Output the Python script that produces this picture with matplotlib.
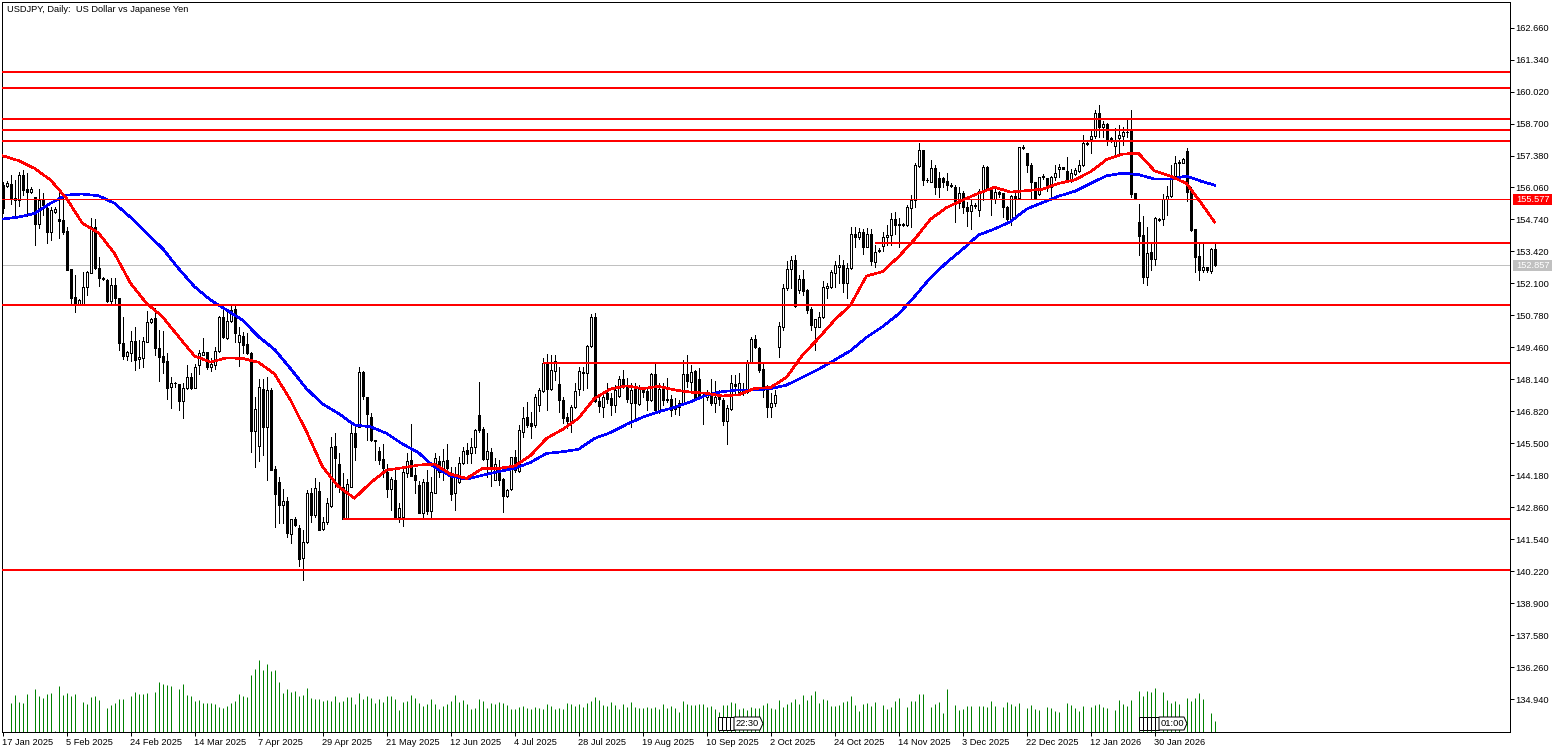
#!/usr/bin/env python3
"""USDJPY daily chart, MetaTrader style: candles, two moving averages, levels and tick volume."""
import matplotlib
matplotlib.use("Agg")
import matplotlib.pyplot as plt
from matplotlib.patches import Polygon

W, H = 1563, 752

RED = "#ff0000"
BLUE = "#0000ff"
GREEN = "#008000"
SILVER = "#c0c0c0"

# --- candles ----------------------------------------------------------------
opens = [
    156.16,156.13,156.20,155.61,155.54,156.57,155.98,155.87,155.65,154.55,
    155.57,155.20,154.24,155.05,154.75,154.72,154.26,152.68,151.53,151.25,
    151.25,151.94,152.55,154.41,152.72,152.33,152.24,151.38,152.04,151.49,
    149.63,149.12,149.22,149.73,148.97,149.04,149.70,150.51,150.66,149.42,
    149.11,148.90,147.81,148.01,147.94,147.27,147.77,148.23,147.80,148.74,
    149.16,149.27,148.67,148.74,149.31,150.70,149.84,150.56,151.03,149.70,
    149.93,149.60,149.25,146.03,145.39,147.75,146.19,147.71,144.43,143.91,
    142.97,143.11,141.77,142.37,142.00,140.79,141.45,143.44,142.55,143.52,
    141.96,142.25,142.92,145.40,144.65,143.69,142.37,143.72,145.92,146.19,
    148.45,147.40,146.61,145.65,145.20,144.85,144.34,143.63,143.99,142.45,
    142.45,144.27,144.82,144.20,143.79,142.65,143.91,142.73,143.47,144.79,
    144.47,144.82,144.16,143.44,143.92,144.68,145.23,145.09,145.34,146.66,
    146.08,144.87,145.15,143.99,144.34,144.03,143.33,143.61,144.95,144.38,
    145.99,146.61,146.33,146.26,147.09,147.68,148.80,147.75,148.50,147.95,
    147.29,146.58,146.44,146.99,147.73,148.46,148.39,149.52,150.70,147.24,
    147.02,147.57,147.36,147.07,147.46,148.15,147.84,147.16,147.79,147.13,
    147.73,147.65,147.29,148.37,146.88,147.77,147.33,147.32,146.94,146.99,
    147.13,148.37,148.05,148.49,148.15,147.47,147.43,147.46,147.16,147.51,
    147.29,146.44,146.93,147.95,147.64,147.71,147.64,148.87,149.79,149.42,
    148.56,147.84,147.02,147.18,149.47,150.32,151.90,152.68,153.07,151.83,
    152.27,151.83,151.03,150.32,150.32,150.70,151.90,151.94,152.55,152.77,
    152.86,152.10,152.72,154.13,154.00,154.22,153.62,154.13,153.00,153.47,
    153.66,154.03,154.11,154.76,154.55,154.55,154.51,155.23,155.54,156.95,
    157.60,156.39,156.30,156.85,156.44,156.44,156.34,156.17,156.07,155.43,
    155.85,155.24,155.10,155.32,155.13,155.93,156.92,155.96,155.57,155.89,
    155.82,155.24,154.75,155.71,155.61,157.72,157.47,156.97,156.30,155.79,
    156.52,156.44,156.10,156.48,156.81,156.89,156.74,156.32,156.62,156.75,
    156.97,157.90,158.08,158.19,159.12,158.57,158.68,158.12,157.79,158.09,
    158.19,158.37,158.41,155.82,154.64,154.10,152.38,153.40,153.10,154.76,
    154.75,155.57,155.71,156.54,157.06,157.09,157.57,155.93,154.34,153.24,
    152.66,152.77,152.63,153.51,
]
highs = [
    156.30,156.34,156.57,156.37,156.71,156.78,156.64,156.07,155.68,155.98,
    155.82,155.38,155.24,155.24,155.91,155.68,154.44,152.70,152.45,151.45,
    152.59,152.63,154.79,154.75,153.20,152.38,152.27,152.31,152.31,151.49,
    150.73,149.33,150.15,150.29,149.77,149.91,150.98,150.66,151.07,150.18,
    150.15,149.22,148.23,148.02,147.95,147.98,148.74,148.39,148.78,149.36,
    149.84,149.29,149.01,149.46,150.76,151.14,150.98,151.21,151.21,150.32,
    150.11,150.04,149.29,147.43,148.15,148.15,148.26,147.77,144.57,144.10,
    143.61,143.28,142.40,142.45,142.14,141.93,143.58,143.65,144.06,143.92,
    142.48,143.24,145.75,145.92,145.09,144.27,144.02,146.26,146.22,148.64,
    148.50,147.43,146.77,145.65,145.37,145.48,144.65,144.13,144.54,143.03,
    144.54,145.09,146.30,144.47,143.97,144.02,144.40,144.13,145.09,144.98,
    145.26,145.48,144.54,144.54,144.95,145.37,145.50,145.71,146.08,148.02,
    146.19,145.95,145.30,144.89,144.82,144.06,143.61,144.95,145.23,146.26,
    147.02,147.22,146.81,147.54,147.77,149.01,149.18,149.15,149.15,148.67,
    147.43,146.74,147.09,147.98,148.64,148.64,149.56,150.84,150.90,147.50,
    147.50,147.98,147.57,147.91,148.28,148.53,148.19,147.98,148.01,147.91,
    147.84,147.73,148.42,148.78,147.98,148.01,148.19,147.50,147.36,147.29,
    148.94,149.15,148.74,148.53,148.60,147.57,147.71,148.15,148.09,147.71,
    147.36,147.09,148.32,148.32,148.39,147.98,148.94,149.91,149.97,149.47,
    148.80,147.91,147.57,147.71,150.52,152.08,153.04,153.23,153.27,152.45,
    152.66,151.86,151.14,150.65,150.94,152.22,152.11,152.66,153.04,153.27,
    153.07,152.93,154.44,154.41,154.37,154.33,154.37,154.33,153.69,153.55,
    154.24,154.51,155.00,155.06,154.79,154.58,155.34,155.75,157.06,157.88,
    157.60,156.44,157.19,156.99,156.71,156.51,156.67,156.23,156.16,156.09,
    155.93,155.47,155.54,155.41,155.98,156.99,156.95,156.09,156.09,155.93,
    155.85,155.29,155.75,155.96,157.74,157.81,157.47,157.06,156.30,156.51,
    156.62,156.44,156.53,156.99,157.03,156.89,157.30,156.81,156.85,157.20,
    158.23,157.95,158.40,159.26,159.46,158.82,158.74,158.13,158.50,158.64,
    158.57,158.85,159.26,155.85,155.38,154.89,154.45,153.83,154.83,154.79,
    155.79,156.12,156.99,157.36,157.20,157.26,157.70,156.07,154.34,153.73,
    153.73,152.80,153.55,153.73,
]
lows = [
    155.00,156.09,155.38,154.83,155.30,155.75,154.88,155.82,153.69,154.37,
    154.92,153.78,153.89,155.00,153.96,154.14,152.64,151.25,150.94,151.20,
    151.20,151.62,152.52,152.68,152.00,152.24,151.34,151.25,151.25,149.36,
    148.97,148.94,148.91,148.53,148.60,148.67,149.67,150.48,149.15,148.09,
    148.39,147.32,146.95,147.81,146.88,146.54,147.73,147.73,147.77,148.36,
    149.15,148.56,148.50,148.56,149.29,149.84,149.80,150.52,149.70,148.69,
    149.22,149.19,145.16,144.54,144.79,145.02,144.00,144.40,142.07,142.23,
    142.20,141.66,141.38,142.09,140.44,139.87,141.41,142.27,142.48,141.93,
    141.93,142.18,142.89,143.72,143.51,142.37,142.37,143.72,144.82,146.19,
    147.32,145.64,145.61,144.82,144.65,144.13,143.30,142.76,142.48,142.27,
    142.09,144.13,144.17,143.44,142.62,142.45,142.59,142.48,143.44,144.13,
    143.99,144.27,143.17,142.76,143.88,144.65,144.68,144.68,145.09,145.99,
    144.82,144.13,143.74,143.99,143.79,142.69,143.30,143.58,144.34,144.34,
    145.78,146.19,145.71,146.19,146.85,147.64,146.88,147.71,148.12,146.81,
    146.33,146.12,145.99,146.95,147.50,147.71,147.77,149.47,147.22,146.81,
    146.60,147.15,146.67,146.81,147.43,147.77,147.22,146.19,146.47,147.09,
    147.43,146.88,147.27,146.81,146.77,147.09,147.22,146.63,146.71,146.67,
    147.09,147.84,147.71,147.29,147.43,146.30,147.29,147.09,146.81,147.09,
    146.26,145.48,146.88,147.57,147.57,147.50,147.57,148.80,149.42,148.46,
    147.43,146.58,146.60,147.05,149.05,150.18,151.83,151.90,151.14,151.69,
    151.62,150.90,150.18,149.36,150.29,150.66,151.49,151.90,151.97,152.10,
    151.76,151.51,152.68,153.62,153.92,153.31,153.59,152.86,152.79,153.41,
    153.45,153.69,153.69,154.14,153.62,154.47,154.47,154.44,155.24,156.92,
    156.16,156.30,156.30,155.79,155.68,156.09,155.96,156.07,154.65,155.20,
    155.02,154.47,154.33,155.20,154.88,155.54,155.96,154.92,155.43,155.68,
    154.83,154.61,154.51,154.88,155.57,157.63,156.71,155.61,155.57,155.75,
    156.42,155.93,155.71,156.37,156.48,156.81,156.30,156.29,156.59,156.71,
    156.95,157.81,157.50,158.09,158.13,158.16,157.81,157.95,157.40,157.47,
    157.81,158.16,155.68,155.59,153.28,152.10,152.04,152.66,152.86,154.69,
    154.51,154.93,155.65,156.51,156.44,157.06,155.52,154.28,152.59,152.25,
    152.59,152.59,152.55,152.84,
]
closes = [
    155.20,156.26,155.57,155.54,156.57,155.96,155.87,156.00,154.55,155.54,
    155.34,154.24,155.13,155.16,154.69,154.24,152.66,151.51,151.25,151.42,
    151.94,152.59,154.44,152.72,152.31,152.30,151.38,152.04,151.49,149.66,
    149.12,149.26,149.73,148.94,149.05,149.73,150.50,150.62,149.42,149.08,
    148.87,147.80,147.98,147.98,147.27,147.77,148.23,147.77,148.64,149.22,
    149.27,148.64,148.76,149.31,150.70,149.91,150.56,151.00,150.04,149.97,
    149.56,149.22,146.03,146.91,147.81,146.19,147.71,144.40,143.42,142.96,
    143.11,141.82,142.37,142.12,140.75,141.45,143.44,142.55,143.65,141.93,
    142.25,143.03,145.34,144.89,143.72,142.37,143.81,145.92,145.34,148.43,
    147.46,146.71,145.64,145.62,144.82,144.50,143.63,144.02,142.48,142.82,
    144.34,144.79,144.17,143.99,142.65,143.90,142.73,143.50,144.89,144.34,
    144.79,144.47,143.42,144.16,144.68,145.20,145.07,145.34,146.06,146.06,
    144.87,145.17,144.54,144.65,143.99,143.33,143.58,144.93,144.40,146.06,
    146.54,146.26,146.22,147.43,147.71,148.83,147.73,148.53,148.92,147.29,
    146.55,146.44,147.02,147.65,148.48,148.39,149.52,150.70,147.27,147.05,
    147.43,147.35,147.09,147.71,148.15,147.95,147.35,147.71,147.18,147.84,
    147.62,147.29,148.37,146.88,147.76,147.29,147.30,146.88,147.02,147.15,
    148.37,148.09,148.46,147.36,147.46,147.44,147.54,147.18,147.43,147.35,
    146.44,146.96,147.98,147.88,147.98,147.57,148.87,149.79,149.49,148.53,
    147.71,147.02,147.18,147.49,150.35,151.90,152.68,153.07,151.17,152.28,
    151.80,151.00,150.39,150.62,150.73,151.94,151.99,152.56,152.86,152.86,
    152.10,152.72,154.13,154.00,154.22,153.62,154.13,153.04,153.41,153.44,
    154.03,154.11,154.75,154.51,154.52,154.52,155.24,155.54,156.99,157.60,
    156.37,156.36,156.85,156.09,156.09,156.30,156.15,156.14,155.43,155.82,
    155.24,155.10,155.34,155.29,155.93,156.92,155.98,155.57,155.89,155.79,
    155.24,154.75,155.71,155.61,157.72,157.69,156.97,156.30,155.61,156.48,
    156.49,156.12,156.48,156.65,156.89,156.81,156.32,156.65,156.78,156.99,
    157.88,157.87,158.19,159.12,158.57,158.68,158.05,158.02,158.02,158.23,
    158.36,158.34,155.80,155.61,154.06,152.38,153.37,153.10,154.79,154.73,
    155.57,155.72,156.58,157.06,157.11,157.22,155.89,154.31,153.21,152.66,
    152.77,152.66,153.51,152.857,
]
# tick volume, thousands
volumes = [
    0,0,
    29,37,30,29,38,0,43,36,34,38,
    39,1,46,37,39,36,38,0,30,28,
    35,36,32,0,24,27,29,33,33,0,
    36,40,38,38,39,0,40,50,48,47,
    46,0,43,48,37,36,31,32,29,29,
    29,28,25,24,26,29,31,38,36,35,
    57,63,72,62,68,61,62,50,39,43,
    40,41,36,37,44,34,33,33,31,32,
    31,36,30,31,35,35,28,39,33,36,
    34,29,33,30,36,
    36,33,22,30,31,37,34,29,26,28,33,28,23,26,28,31,37,30,32,28,
    23,24,33,31,24,29,28,30,29,27,23,23,25,26,24,23,25,24,23,28,
    26,23,24,23,29,28,26,28,25,29,31,35,32,27,26,30,27,23,28,25,
    30,25,24,24,25,24,25,23,28,24,26,24,20,31,28,27,27,28,28,
    25,26,23,20,27,27,30,29,23,24,22,25,24,24,27,29,24,23,32,25,
    28,30,33,28,37,32,37,41,29,33,32,26,26,27,30,31,36,27,21,28,
    29,26,30,0,27,23,25,31,34,0,25,31,31,38,38,0,25,28,30,19,
    43,0,27,22,23,26,26,0,26,26,25,31,26,0,25,30,28,26,29,0,
    24,27,23,22,0,25,24,21,20,0,29,27,24,21,26,0,25,27,28,25,
    24,0,22,32,28,26,32,0,41,36,41,40,44,0,40,32,29,31,28,0,
    34,31,34,39,33,0,19,11,
]

# moving averages, read at every fourth bar and at the last one
ma_bars = list(range(0, 304, 4)) + [303]
ma_red = [
    157.37,157.17,156.85,156.37,155.61,154.58,154.19,153.34,152.11,151.28,
    150.73,149.91,149.11,148.86,149.03,149.01,148.85,148.37,147.29,145.99,
    144.54,143.72,143.24,143.88,144.40,144.50,144.61,144.65,144.24,144.06,
    144.47,144.47,144.57,145.00,145.71,146.08,146.54,147.36,147.75,147.88,
    147.76,147.86,147.71,147.62,147.57,147.46,147.51,147.77,147.81,148.23,
    149.15,149.84,150.59,151.21,152.41,152.59,153.20,153.92,154.75,155.23,
    155.54,155.82,156.07,155.87,155.93,155.99,156.23,156.37,156.71,157.21,
    157.44,157.47,156.75,156.53,156.23,155.34,154.64,
]
ma_blue = [
    154.76,154.84,154.99,155.41,155.75,155.79,155.72,155.41,154.83,154.17,
    153.55,152.72,151.97,151.42,151.01,150.59,149.91,149.38,148.59,147.76,
    147.13,146.74,146.26,146.19,145.92,145.48,145.12,144.52,144.16,144.03,
    144.19,144.34,144.47,144.72,145.09,145.16,145.26,145.71,145.95,146.29,
    146.58,146.81,146.99,147.22,147.50,147.64,147.71,147.71,147.76,147.91,
    148.23,148.56,148.94,149.33,149.88,150.32,150.84,151.56,152.34,152.96,
    153.51,154.10,154.35,154.65,155.17,155.44,155.70,155.90,156.23,156.54,
    156.65,156.59,156.41,156.41,156.53,156.30,156.16,
]

# horizontal levels: price and the bar where each one starts
level_prices = [160.84, 160.18, 158.90, 158.44, 157.99, 153.77, 151.23, 148.82, 142.39, 140.28]
level_starts = [0, 0, 0, 0, 0, 218, 0, 135, 85, 0]
bid_price = 155.577
last_price = 152.857

price_ticks = [162.66, 161.34, 160.02, 158.70, 157.38, 156.06, 154.74, 153.42, 152.10, 150.78,
               149.46, 148.14, 146.82, 145.50, 144.18, 142.86, 141.54, 140.22, 138.90, 137.58,
               136.26, 134.94]
date_ticks = list(range(0, 304, 16))
date_labels = ["17 Jan 2025", "5 Feb 2025", "24 Feb 2025", "14 Mar 2025", "7 Apr 2025", "29 Apr 2025",
               "21 May 2025", "12 Jun 2025", "4 Jul 2025", "28 Jul 2025", "19 Aug 2025", "10 Sep 2025",
               "2 Oct 2025", "24 Oct 2025", "14 Nov 2025", "3 Dec 2025", "22 Dec 2025", "12 Jan 2026",
               "30 Jan 2026"]

plt.rcParams.update({"font.family": "Liberation Sans", "font.size": 6.7})
PX_LW = 0.72  # one pixel at dpi 100


def fx(x):
    return x / W


def fy(y):
    return 1 - y / H


def px_poly(points, **kw):
    fig.add_artist(Polygon([(fx(x), fy(y)) for x, y in points], closed=True,
                           transform=fig.transFigure, **kw))


fig = plt.figure(figsize=(W / 100, H / 100), dpi=100, facecolor="white")
rect = [fx(2), fy(732), (1510 - 2) / W, (732 - 2) / H]
ax = fig.add_axes(rect)
ax.set_xlim(-0.125, 376.875)
ax.set_ylim(133.599, 163.712)

bars = list(range(len(closes)))

# candles
ax.vlines(bars, lows, highs, color="black", lw=PX_LW, antialiased=False, zorder=2)
for i in bars:
    up = closes[i] >= opens[i]
    ax.bar(i, abs(closes[i] - opens[i]), bottom=min(opens[i], closes[i]), width=0.5,
           facecolor="white" if up else "black", edgecolor="black", linewidth=PX_LW,
           antialiased=False, zorder=3)

# moving averages
ax.plot(ma_bars, ma_blue, color=BLUE, lw=1.15, antialiased=False, zorder=4)
ax.plot(ma_bars, ma_red, color=RED, lw=1.15, antialiased=False, zorder=5)

# levels
right_edge = ax.get_xlim()[1]
for price, start in zip(level_prices, level_starts):
    x0 = start if start else ax.get_xlim()[0]
    ax.hlines(price, x0, right_edge, color=RED, lw=1.15, antialiased=False, zorder=6)
ax.axhline(bid_price, color=RED, lw=PX_LW, antialiased=False, zorder=6)
ax.axhline(last_price, color=SILVER, lw=PX_LW, antialiased=False, zorder=1)

# axes furniture
ax.yaxis.tick_right()
ax.set_yticks(price_ticks)
ax.set_yticklabels([f"{p:.3f}" for p in price_ticks])
ax.set_xticks(date_ticks)
ax.set_xticklabels(date_labels, ha="left")
ax.tick_params(axis="both", length=3, width=PX_LW, color="black", labelcolor="black")
ax.tick_params(axis="x", pad=1)
ax.tick_params(axis="y", pad=1)
for s in ax.spines.values():
    s.set_linewidth(PX_LW)
    s.set_color("black")

# volume shares the frame; one unit of volume is one pixel of height
vax = fig.add_axes(rect, sharex=ax)
vax.set_ylim(0, 730)
vax.axis("off")
vol_bars = [i for i in bars if volumes[i] > 0]
vax.vlines(vol_bars, 0, [volumes[i] for i in vol_bars], color=GREEN, lw=PX_LW, antialiased=True)

fig.text(fx(7), fy(9.5), "USDJPY, Daily:  US Dollar vs Japanese Yen", va="center", ha="left", color="black")

# price tags on the scale
for price_y, bg, txt in [(199.5, RED, f"{bid_price:.3f}"), (265.5, SILVER, f"{last_price:.3f}")]:
    px_poly([(1513, price_y - 5.5), (1552, price_y - 5.5), (1552, price_y + 5.5), (1513, price_y + 5.5)],
            facecolor=bg, edgecolor="none", zorder=10)
    fig.text(fx(1516), fy(price_y), txt, color="white", va="center", ha="left", zorder=11)

# time markers sitting over the volume bars
for stack_x0, tag_x0, tip_x, stamp in [(718, 734, 763, "22:30"), (1139, 1159, 1187, "01:00")]:
    for bx in range(stack_x0, tag_x0, 4):
        px_poly([(bx, 717), (bx + 4, 717), (bx + 4, 730), (bx, 730)],
                facecolor="white", edgecolor="black", lw=PX_LW, zorder=10)
    px_poly([(tag_x0, 717), (tip_x - 3, 717), (tip_x, 723.5), (tip_x - 3, 730), (tag_x0, 730)],
            facecolor="white", edgecolor="black", lw=PX_LW, zorder=11)
    fig.text(fx((tag_x0 + tip_x - 2) / 2), fy(723.5), stamp, color="black", va="center", ha="center", zorder=12)

fig.savefig("out.png", dpi=100, facecolor="white")
